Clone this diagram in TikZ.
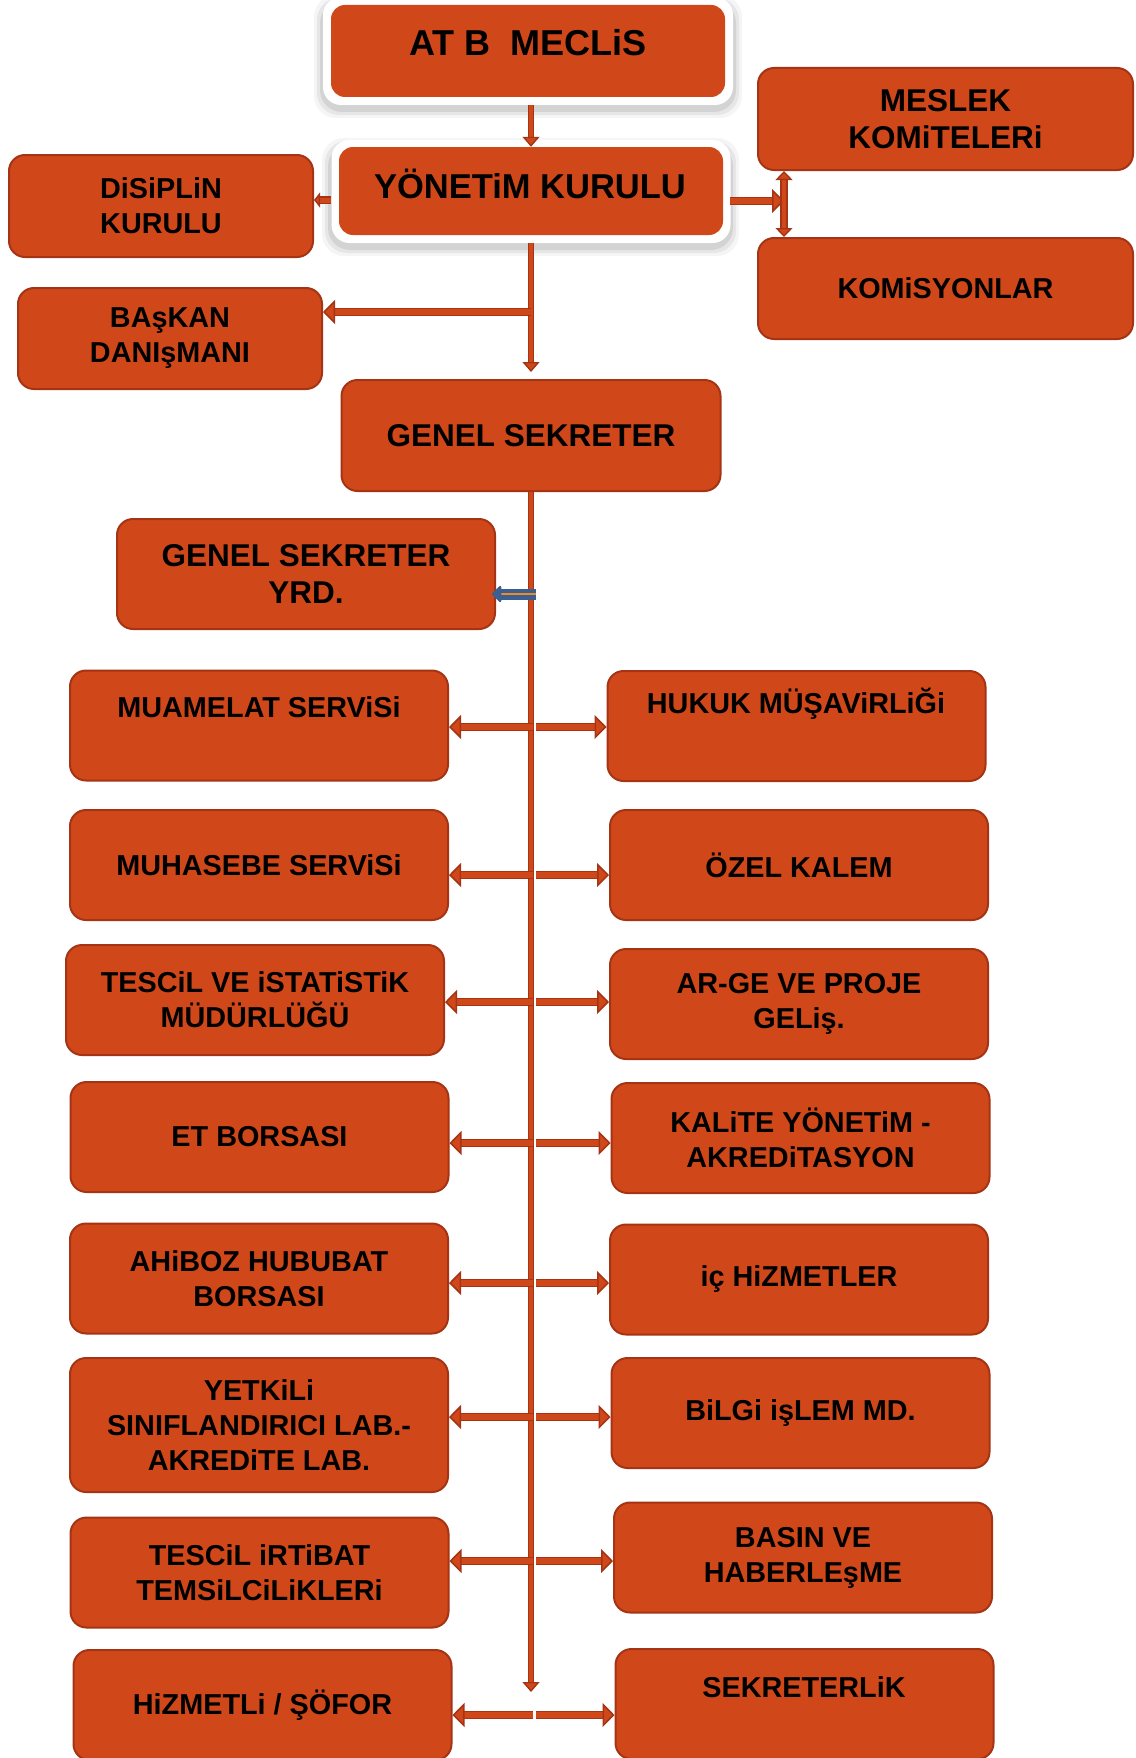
\documentclass[tikz,border=0pt]{standalone}
\usepackage{fontspec}
\setmainfont{Liberation Sans}
\usetikzlibrary{arrows.meta}
\definecolor{cfill}{RGB}{208,72,26}
\definecolor{cdark}{RGB}{165,52,20}
\definecolor{cblue}{RGB}{60,95,145}
\definecolor{corange}{RGB}{240,140,40}
\begin{document}
\begin{tikzpicture}[x=1pt,y=-1pt,
  box/.style={draw=cdark, line width=2pt, fill=cfill, rounded corners=16pt, inner sep=0pt, align=center, font=\bfseries\fontsize{28.8}{35}\selectfont},
  big/.style={font=\bfseries\fontsize{31.5}{37}\selectfont},
  txt/.style={inner sep=0pt, align=center, font=\bfseries\fontsize{28.8}{35}\selectfont},
  halo/.style={fill=white, rounded corners=18pt, inner sep=0pt},
  inbox/.style={fill=cfill, rounded corners=14pt, inner sep=0pt},
  conn/.style={draw=cdark, line width=1.5pt, double=cfill, double distance=5.5pt, -{Triangle[length=12pt, width=24pt, fill=cfill]}},
  vconn/.style={draw=cdark, line width=1.4pt, double=cfill, double distance=4pt, -{Triangle[length=10pt, width=17pt, fill=cfill]}},
  dconn/.style={draw=cdark, line width=1.4pt, double=cfill, double distance=4.5pt, {Triangle[length=9pt, width=17pt, fill=cfill]}-{Triangle[length=9pt, width=17pt, fill=cfill]}},
  sconn/.style={draw=cdark, line width=1.4pt, double=cfill, double distance=5pt, -{Triangle[length=6pt, width=15pt, fill=cfill]}},
  bconn/.style={draw=cblue, line width=4.5pt, double=corange, double distance=2pt, line join=round, -{Triangle[length=10pt, width=19pt, round]}}
]
\path[use as bounding box] (0,0) rectangle (1135,1758);
\fill[white] (0,0) rectangle (1135,1758);
\clip (0,0) rectangle (1135,1758);

% soft shadows of the two framed boxes
\foreach \k/\o in {9/0.04,6/0.06,3/0.08}{
  \fill[black, opacity=\o, rounded corners=22pt] (323-\k,-3-\k+7) rectangle (733+\k,105+\k+4);
  \fill[black, opacity=\o, rounded corners=22pt] (331-\k,140-\k+7) rectangle (730+\k,243+\k+4);
}

% framed boxes
\node[halo, minimum width=410, minimum height=108] (mech) at (528,51) {};
\node[inbox, minimum width=394, minimum height=92] (mec) at (528,51) {};
\node[txt, font=\bfseries\fontsize{36}{40}\selectfont] (mect) at (528,43) {AT B\ \ MECLiS};

\node[halo, minimum width=399, minimum height=103] (yonh) at (531,191.5) {};
\node[inbox, minimum width=384, minimum height=88] (yon) at (531,191) {};
\node[txt, font=\bfseries\fontsize{34.5}{40}\selectfont] (yont) at (530,184) {YÖNETiM KURULU};

% upper boxes
\node[box, minimum width=304, minimum height=102] (dis) at (161,206) {DiSiPLiN\\KURULU};
\node[box, big, minimum width=375, minimum height=102] (mes) at (945.5,119) {MESLEK\\KOMiTELERi};
\node[box, minimum width=375, minimum height=101] (kom) at (945.5,288.5) {KOMiSYONLAR};
\node[box, minimum width=304, minimum height=101] (bas) at (170,338.5) {BAşKAN\\DANIşMANI};
\node[box, big, minimum width=379, minimum height=111] (gs) at (531,435.5) {GENEL SEKRETER};
\node[box, big, minimum width=378, minimum height=110] (gsy) at (306,574) {GENEL SEKRETER\\YRD.};

% left column
\node[box, minimum width=378, minimum height=110] (l1) at (259,725.5) {};
\node[txt] (l1t) at (259,707) {MUAMELAT SERViSi};
\node[box, minimum width=378, minimum height=110] (l2) at (259,865) {MUHASEBE SERViSi};
\node[box, minimum width=378, minimum height=110] (l3) at (255,1000) {TESCiL VE iSTATiSTiK\\MÜDÜRLÜĞÜ};
\node[box, minimum width=378, minimum height=110] (l4) at (259.5,1137) {ET BORSASI};
\node[box, minimum width=378, minimum height=110] (l5) at (259,1278.5) {AHiBOZ HUBUBAT\\BORSASI};
\node[box, minimum width=378, minimum height=134] (l6) at (259,1425) {YETKiLi\\SINIFLANDIRICI LAB.-\\AKREDiTE LAB.};
\node[box, minimum width=378, minimum height=110] (l7) at (259.5,1572.5) {TESCiL iRTiBAT\\TEMSiLCiLiKLERi};
\node[box, minimum width=378, minimum height=110] (l8) at (262.5,1705) {HiZMETLi / ŞÖFOR};

% right column
\node[box, minimum width=378, minimum height=110] (r1) at (796.5,726) {};
\node[txt] (r1t) at (796,704) {HUKUK MÜŞAViRLiĞi};
\node[box, minimum width=378, minimum height=110] (r2) at (799,865) {ÖZEL KALEM};
\node[box, minimum width=378, minimum height=110] (r3) at (799,1004) {AR-GE VE PROJE\\GELiş.};
\node[box, minimum width=378, minimum height=110] (r4) at (800.5,1138) {KALiTE YÖNETiM -\\AKREDiTASYON};
\node[box, minimum width=378, minimum height=110] (r5) at (799,1279.5) {iç HiZMETLER};
\node[box, minimum width=378, minimum height=110] (r6) at (800.5,1413) {BiLGi işLEM MD.};
\node[box, minimum width=378, minimum height=110] (r7) at (803,1557.5) {BASIN VE\\HABERLEşME};
\node[box, minimum width=378, minimum height=110] (r8) at (804.5,1704) {};
\node[txt] (r8t) at (804,1687) {SEKRETERLiK};

% connectors (top part)
\draw[vconn] (mech.south -| yon.north) -- (yon.north);
\coordinate (jd) at (331,200);
\draw[sconn] (jd) -- (jd -| dis.east);
\coordinate (jr) at (730,201);
\coordinate (vm) at (784,205);
\draw[conn] (jr) -- (jr -| vm);
\draw[dconn] (vm |- mes.south) -- (vm |- kom.north);
\draw[vconn, shorten >=7pt] (yonh.south) -- (yonh.south |- gs.north);
\coordinate (jb) at (531,312);
\draw[conn] (jb) -- (jb -| bas.east);

% main line
\coordinate (mend) at (531,1692);
\draw[vconn] (gs.south) -- (gs.south |- mend);
\coordinate (jy) at (536,594);
\draw[bconn] (jy) -- ([xshift=-4pt]jy -| gsy.east);

\foreach \i/\y in {1/727,2/875,3/1002,4/1143,5/1283,6/1417,7/1561,8/1715}{
  \coordinate (j\i) at (531,\y);
  \draw[conn] ([xshift=2pt]j\i) -- (j\i -| l\i.east);
  \draw[conn] ([xshift=5pt]j\i) -- (j\i -| r\i.west);
}
\end{tikzpicture}
\end{document}
